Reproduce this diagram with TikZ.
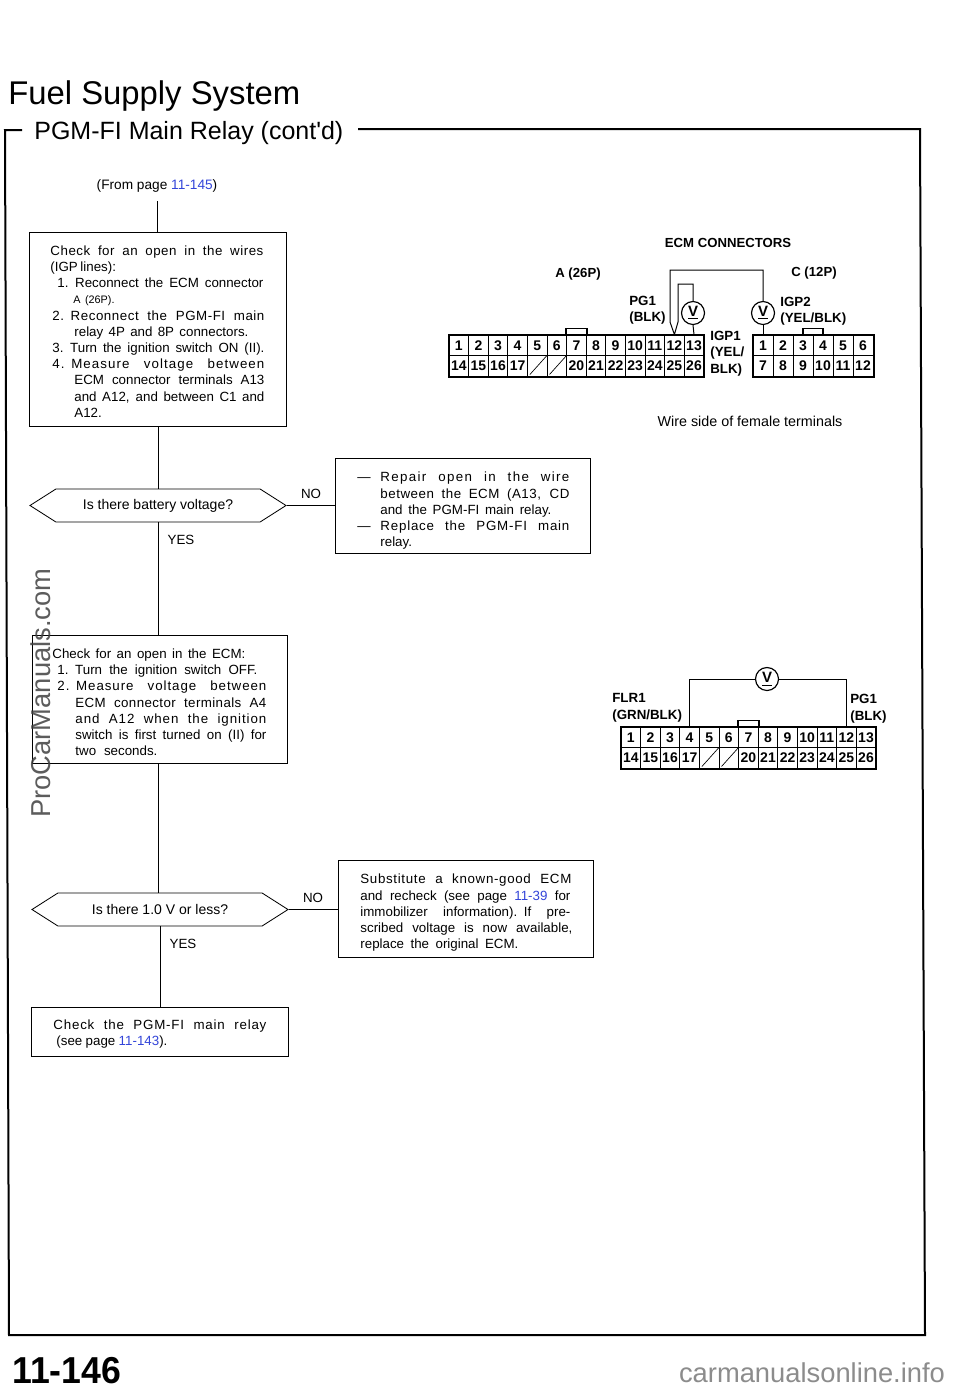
\documentclass[tikz,border=0pt]{standalone}
\usepackage{fontspec}
\setmainfont{Liberation Sans}
\usetikzlibrary{positioning, shapes.symbols}
\definecolor{linkblue}{rgb}{0.2,0.27,0.85}
\newlength{\pxu}
\setlength{\pxu}{0.6pt}
\newcommand{\fl}[3]{\hspace*{#1\pxu}\makebox[#2\pxu][s]{\spaceskip=.278em plus 4em minus .08em\relax #3}}
\newcommand{\fs}[4]{\hspace*{#2\pxu}\makebox[#3\pxu][s]{\addfontfeature{LetterSpace=#1}\spaceskip=.278em plus 4em minus .08em\relax #4}}
\newcommand{\dl}[4]{\hspace*{#2\pxu}\makebox[23\pxu][l]{---}\makebox[#3\pxu][s]{\addfontfeature{LetterSpace=#1}\spaceskip=.278em plus 4em minus .08em\relax #4}}
\newcommand{\lk}[1]{\textcolor{linkblue}{#1}}
\newcommand{\ecmaconn}[3]{
\foreach \i in {1,...,13}
\node [cell] (#1t\i) at ({#2-9.8+19.6*\i},{#3-10.25}) {\i};
\foreach \i/\lab in {1/14,2/15,3/16,4/17,5/,6/,7/20,8/21,9/22,10/23,11/24,12/25,13/26}
\node [cell] (#1b\i) at ({#2-9.8+19.6*\i},{#3-30.75}) {\lab};
\draw [black, line width=1.2pt] (#1t1.north west) rectangle (#1b13.south east);
\draw [black, line width=1pt] (#1t7.north west) -- ++(0,6) -| (#1t7.north east);
\draw [black] ([shift={(3,2)}]#1b5.south west) -- ([shift={(-1,-1)}]#1b5.north east);
\draw [black] ([shift={(3,2)}]#1b6.south west) -- ([shift={(-1,-1)}]#1b6.north east);
}
\begin{document}
\begin{tikzpicture}[x=\pxu,y=\pxu]
\tikzstyle{every node}+=[inner sep=0pt, text=black]
\tikzstyle{flowbox}=[draw=black, line width=0.5pt, anchor=north west, align=left, font=\fontsize{8}{9.72}\selectfont]
\tikzstyle{query}=[draw=black, line width=0.5pt, signal, signal to=west and east, signal pointer angle=65, minimum height=33*\pxu, font=\fontsize{8.4}{9.72}\selectfont]
\tikzstyle{body}=[font=\fontsize{8}{9.72}\selectfont]
\tikzstyle{tag}=[anchor=north west, align=left, font=\fontsize{8}{10}\selectfont\bfseries]
\tikzstyle{cell}=[draw=black, line width=0.6pt, minimum width=19.6*\pxu, minimum height=20.5*\pxu, font=\fontsize{8.4}{10}\selectfont\bfseries]
\tikzstyle{probe}=[draw=black, fill=white, line width=0.7pt, circle, minimum size=23*\pxu, font=\fontsize{9}{10}\selectfont\bfseries]
\tikzstyle{wire}=[draw=black, line width=0.6pt]
\useasboundingbox (0,0) rectangle (960,-1391);
\fill [white] (0,0) rectangle (960,-1391);
\node [anchor=west, font=\fontsize{19.7}{22}\selectfont] (title) at (8,-96) {Fuel Supply System};
\node [anchor=west, font=\fontsize{15}{18}\selectfont] (subtitle) at (34,-133) {PGM-FI Main Relay (cont\textquotesingle d)};
\coordinate (framea) at (22,-130);
\coordinate (frameb) at (5,-130);
\coordinate (framec) at (9,-1335);
\coordinate (framed) at (925,-1335);
\coordinate (framee) at (920,-129);
\coordinate (framef) at (358,-129);
\draw [black, line width=1.2pt] (framea) -- (frameb) -- (framec) -- (framed) -- (framee) -- (framef);
\node [body, font=\fontsize{8.2}{9.72}\selectfont] (fromnote) at (157,-185.5) {(From page \lk{11-145})};
\coordinate (fromtail) at (157,-201);
\node [flowbox, text width=257*\pxu, minimum height=194*\pxu] (checkwires) at (29,-232) {\rule{0pt}{8.2pt}%
\fs{4}{21}{213}{Check for an open in the wires}\\
\fl{21}{65}{(IGP lines):}\\
\fl{28}{206}{1. Reconnect the ECM connector}\\
\hspace*{44\pxu}{\fontsize{6.5}{9.72}\selectfont A (26P).}\\
\fs{4}{23}{212}{2. Reconnect the PGM-FI main}\\
\fl{45}{174}{relay 4P and 8P connectors.}\\
\fl{23}{212}{3. Turn the ignition switch ON (II).}\\
\fs{8}{23}{212}{4. Measure voltage between}\\
\fl{45}{190}{ECM connector terminals A13}\\
\fl{45}{190}{and A12, and between C1 and}\\
\fl{45}{27}{A12.}};
\node [query, minimum width=256*\pxu] (battery) at (158,-505.5) {\raisebox{-1.5pt}{Is there battery voltage?}};
\node [body] (nofirst) at (311,-494) {NO};
\node [body] (yesfirst) at (181,-540) {YES};
\node [flowbox, text width=255*\pxu, minimum height=95*\pxu] (repair) at (335,-458) {\rule{0pt}{11.8pt}%
\dl{10}{22}{189}{Repair open in the wire}\\
\fs{4}{45}{189}{between the ECM (A13, CD}\\
\fl{45}{171}{and the PGM-FI main relay.}\\
\dl{6}{22}{189}{Replace the PGM-FI main}\\
\fl{45}{33}{relay.}};
\node [flowbox, text width=255*\pxu, minimum height=128*\pxu] (checkecm) at (32,-635) {\rule{0pt}{9.4pt}%
\fl{20}{193}{Check for an open in the ECM:}\\
\fl{25}{200}{1. Turn the ignition switch OFF.}\\
\fs{7}{25}{209}{2. Measure voltage between}\\
\fs{3}{43}{191}{ECM connector terminals A4}\\
\fs{7}{43}{191}{and A12 when the ignition}\\
\fl{43}{191}{switch is first turned on (II) for}\\
\fl{43}{82}{two seconds.}};
\node [query, minimum width=256*\pxu] (lessvolt) at (160,-909.5) {\raisebox{-1.5pt}{Is there 1.0 V or less?}};
\node [body] (nosecond) at (313,-898) {NO};
\node [body] (yessecond) at (183,-944) {YES};
\node [flowbox, text width=255*\pxu, minimum height=97*\pxu] (substitute) at (338,-860) {\rule{0pt}{10.6pt}%
\fs{5}{22}{211}{Substitute a known-good ECM}\\
\fl{22}{210}{and recheck (see page \lk{11-39} for}\\
\fl{22}{210}{immobilizer information). If pre-}\\
\fl{22}{212}{scribed voltage is now available,}\\
\fl{22}{158}{replace the original ECM.}};
\node [flowbox, text width=257*\pxu, minimum height=49*\pxu] (checkrelay) at (31,-1007) {\rule{0pt}{8.2pt}%
\fs{6}{22}{213}{Check the PGM-FI main relay}\\
\fl{25}{111}{(see page \lk{11-143}).}};
\draw [black, line width=0.5pt] (fromtail) -- (fromtail |- checkwires.north);
\draw [black, line width=0.5pt] (battery.north |- checkwires.south) -- (battery.north);
\draw [black, line width=0.5pt] (battery.south) -- (battery.south |- checkecm.north);
\draw [black, line width=0.5pt] (battery.east) -- (repair.west |- battery.east);
\draw [black, line width=0.5pt] (battery.south |- checkecm.south) -- (battery.south |- lessvolt.north);
\draw [black, line width=0.5pt] (lessvolt.south) -- (lessvolt.south |- checkrelay.north);
\draw [black, line width=0.5pt] (lessvolt.east) -- (substitute.west |- lessvolt.east);
\node [font=\fontsize{7.9}{10}\selectfont\bfseries] (ecmhead) at (728,-243) {ECM CONNECTORS};
\node [font=\fontsize{7.9}{10}\selectfont\bfseries] (aname) at (578,-274) {A (26P)};
\node [font=\fontsize{7.9}{10}\selectfont\bfseries] (cname) at (814,-273) {C (12P)};
\node [tag] (pgone) at (629,-295.5) {PG1\\(BLK)};
\node [tag] (igpone) at (710,-330.5) {IGP1\\(YEL/\\BLK)};
\node [tag] (igptwo) at (780,-296.5) {IGP2\\(YEL/BLK)};
\node [font=\fontsize{8.6}{10}\selectfont] (wireside) at (750,-421) {Wire side of female terminals};
\ecmaconn{ecma}{449}{-335}
\foreach \i in {1,...,6}
\node [cell, minimum width=20*\pxu] (ecmct\i) at ({743+20*\i},-345.25) {\i};
\foreach \i/\lab in {1/7,2/8,3/9,4/10,5/11,6/12}
\node [cell, minimum width=20*\pxu] (ecmcb\i) at ({743+20*\i},-365.75) {\lab};
\draw [black, line width=1.2pt] (ecmct1.north west) rectangle (ecmcb6.south east);
\draw [black, line width=1pt] (ecmct3.north) -- ++(0,6) -| (ecmct4.north);
\node [probe] (probea) at (693,-313) {\underline{V}};
\node [probe] (probec) at (763,-313) {\underline{V}};
\coordinate (benda) at (678,-284);
\coordinate (bendb) at (678,-322);
\coordinate (bendc) at (670,-322);
\coordinate (bendd) at (670,-270);
\draw [wire] (ecmat13.north) -- (probea.south);
\draw [wire] (probea.north) |- (benda) -- (bendb) -- (ecmat12.north) -- (bendc) -- (bendd) -| (probec.north);
\draw [wire] (probec.south) -- (ecmct1.north);
\node [tag] (flrone) at (612,-693) {FLR1\\(GRN/BLK)};
\node [tag] (pgtwo) at (850,-694) {PG1\\(BLK)};
\ecmaconn{ecmf}{621}{-727}
\node [probe] (probef) at (767,-679) {\underline{V}};
\draw [wire] (probef.west) -| (ecmft4.north);
\draw [wire] (probef.east) -| (ecmft12.north);
\node [anchor=west, xscale=0.95, font=\fontsize{22.5}{24}\selectfont\bfseries] (pagenum) at (12,-1371) {11-146};
\node [rotate=90, text=black!75, opacity=0.85, font=\fontsize{16.4}{20}\selectfont] (watermark) at (41,-693) {ProCarManuals.com};
\node [text=black!45, font=\fontsize{16.4}{20}\selectfont] (sitemark) at (812,-1373) {carmanualsonline.info};
\end{tikzpicture}
\end{document}
